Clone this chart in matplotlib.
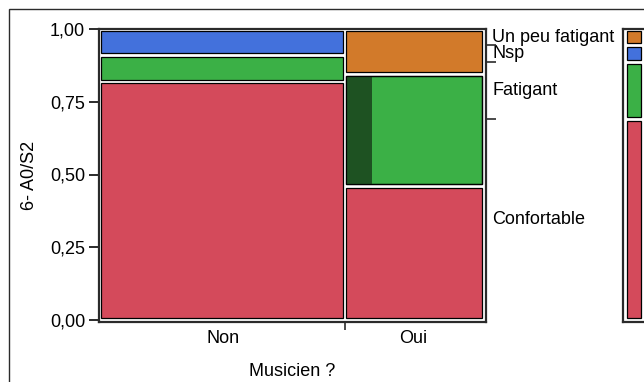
import matplotlib
matplotlib.use("Agg")
import matplotlib.pyplot as plt
from matplotlib.patches import Rectangle
from matplotlib.ticker import FuncFormatter
import matplotlib.transforms as mtransforms

plt.rcParams['font.family'] = ['Liberation Sans', 'DejaVu Sans']

groups = ["Non", "Oui"]
group_share = [0.64, 0.36]
levels = ["Confortable", "Fatigant", "Nsp", "Un peu fatigant"]
level_colors = ["#D44A5B", "#3BB046", "#4371DC", "#D27A2A"]
shares = {
    "Non": [0.82, 0.09, 0.09, 0.0],
    "Oui": [0.46, 0.385, 0.0, 0.155],
}
# highlighted (selected) part of the Oui / Fatigant cell
highlight_share = 0.19
highlight_color = "#1E5222"

W, H = 644, 382
fig = plt.figure(figsize=(W / 100, H / 100), dpi=100)


def px_axes(x0, y0, x1, y1):
    return fig.add_axes([x0 / W, 1 - y1 / H, (x1 - x0) / W, (y1 - y0) / H])


frame_col = "#2b2b2b"
fs = 13
gap_y = 0.012
gap_x = 0.008
lo, hi = 0.006, 0.994
ylim = (-1.7 / 291, 1 + 0.3 / 291)

ax = px_axes(99, 28.7, 486, 321.7)
ax.set_xlim(-2 / 381, 1 + 4 / 381)
ax.set_ylim(*ylim)

x_left = 0.0
bounds = []
for gi, g in enumerate(groups):
    w = group_share[gi]
    x0 = x_left + (gap_x / 2 if gi > 0 else 0)
    x1 = x_left + w - (gap_x / 2 if gi < len(groups) - 1 else 0)
    cum = 0.0
    for k, s in enumerate(shares[g]):
        if s <= 0:
            continue
        y0 = max(lo, cum + gap_y / 2)
        y1 = min(hi, cum + s - gap_y / 2)
        ax.add_patch(Rectangle((x0, y0), x1 - x0, y1 - y0, facecolor=level_colors[k],
                               edgecolor="black", lw=0.9))
        if g == "Oui" and levels[k] == "Fatigant":
            hw = (x1 - x0) * highlight_share
            ax.add_patch(Rectangle((x0, y0), hw, y1 - y0, facecolor=highlight_color,
                                   edgecolor="none"))
            ax.add_patch(Rectangle((x0, y0), x1 - x0, y1 - y0, facecolor="none",
                                   edgecolor="black", lw=0.9))
        cum += s
    x_left += w
    bounds.append(x_left)

for sp in ax.spines.values():
    sp.set_color(frame_col)
    sp.set_linewidth(1.6)

ax.set_yticks([0, 0.25, 0.5, 0.75, 1.0])
ax.yaxis.set_major_formatter(FuncFormatter(lambda v, p: f"{v:.2f}".replace(".", ",")))
ax.tick_params(axis="y", length=7, width=1.4, color=frame_col, labelsize=fs, pad=3)

# bottom: one tick between columns, labels centred under each column
ax.set_xticks([bounds[0]])
ax.set_xticklabels([""])
ax.tick_params(axis="x", which="major", length=6, width=1.2, color=frame_col)
centers = []
start = 0.0
for w in group_share:
    centers.append(start + w / 2)
    start += w
ax.set_xticks(centers, minor=True)
ax.set_xticklabels(groups, minor=True)
ax.tick_params(axis="x", which="minor", length=0, labelsize=fs, pad=6)

# right axis: overall marginal proportions
marg = [sum(group_share[i] * shares[g][k] for i, g in enumerate(groups))
        for k in range(len(levels))]
edges = []
c = 0.0
for m in marg[:-1]:
    c += m
    edges.append(c)
ax2 = ax.twinx()
ax2.set_ylim(*ylim)
ax2.set_yticks(edges)
ax2.set_yticklabels([])
ax2.tick_params(axis="y", length=7, width=1.2, color=frame_col)
for sp in ax2.spines.values():
    sp.set_visible(False)

trans = mtransforms.blended_transform_factory(ax.transAxes, ax.transData)
c = 0.0
for k, m in enumerate(marg):
    ax.text(1 + 6 / 387, c + m / 2, levels[k], transform=trans, ha="left",
            va="center", fontsize=fs)
    c += m

# marginal bar on the far right
axm = px_axes(623, 28.7, 660, 321.7)
axm.set_ylim(*ylim)
axm.set_xlim(-4 / 14, 33 / 14)
c = 0.0
for k, m in enumerate(marg):
    y0 = max(lo, c + gap_y / 2)
    y1 = min(hi, c + m - gap_y / 2)
    axm.add_patch(Rectangle((0, y0), 1, y1 - y0, facecolor=level_colors[k],
                            edgecolor="black", lw=0.9))
    c += m
axm.set_xticks([])
axm.set_yticks([])
for sp in axm.spines.values():
    sp.set_color(frame_col)
    sp.set_linewidth(1.6)

fig.text(29 / W, 1 - 175 / H, "6- A0/S2", rotation=90, ha="center", va="center",
         fontsize=fs)
fig.text(292.5 / W, 1 - 372 / H, "Musicien ?", ha="center", va="center",
         fontsize=fs)

# outer panel frame (top and left edges visible)
fig.add_artist(Rectangle((9 / W, -0.5), 1.5, 1.5 - 9 / H, transform=fig.transFigure,
                         fill=False, edgecolor=frame_col, lw=1.0))

fig.savefig("out.png", dpi=100)
